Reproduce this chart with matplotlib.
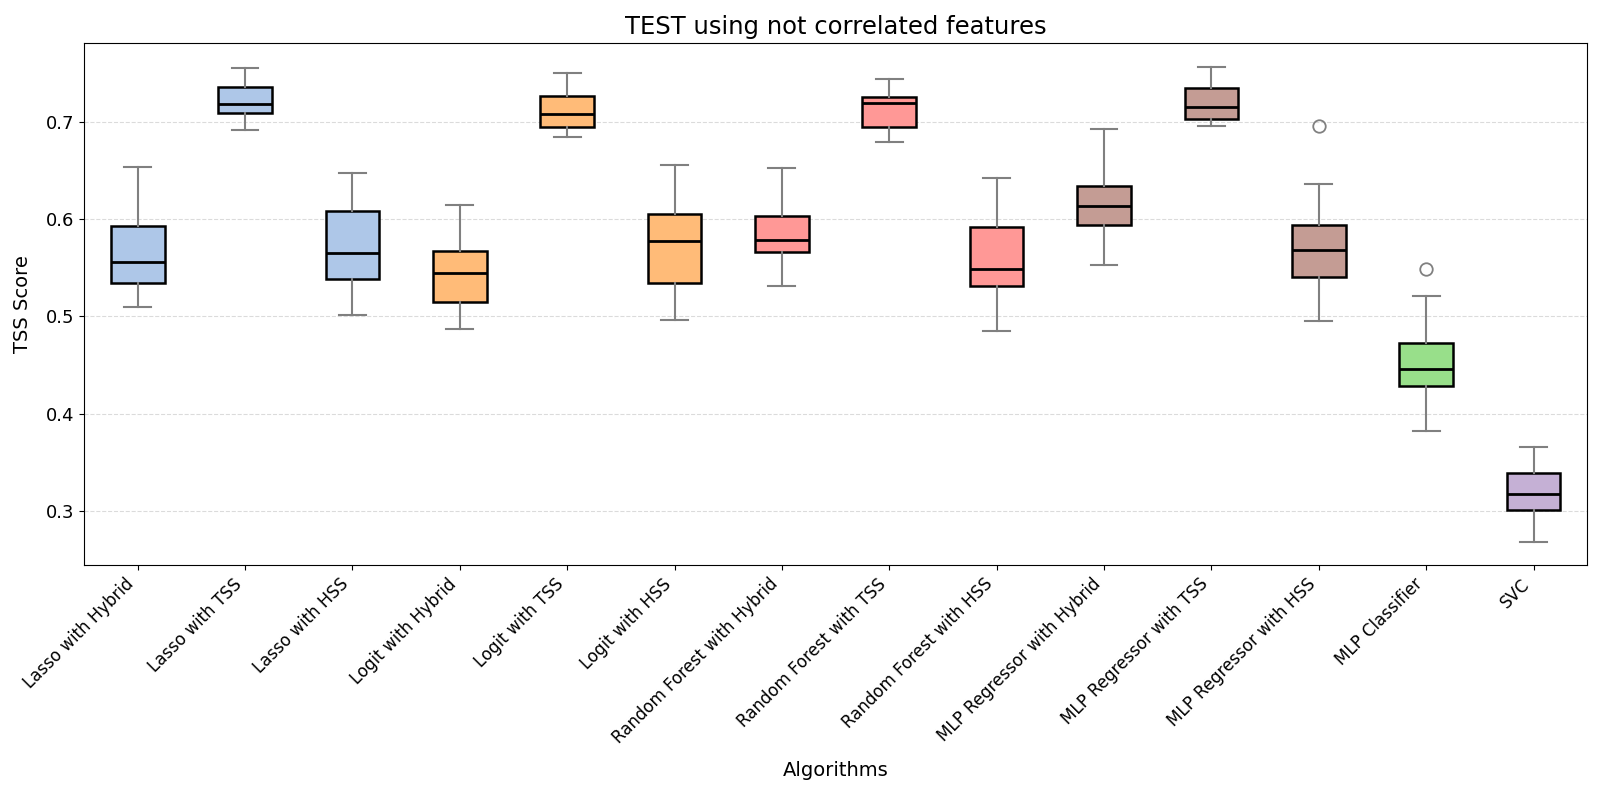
import matplotlib
matplotlib.use('Agg')
import matplotlib.pyplot as plt

# algorithms on the x axis
algos = ['Lasso with Hybrid', 'Lasso with TSS', 'Lasso with HSS',
         'Logit with Hybrid', 'Logit with TSS', 'Logit with HSS',
         'Random Forest with Hybrid', 'Random Forest with TSS', 'Random Forest with HSS',
         'MLP Regressor with Hybrid', 'MLP Regressor with TSS', 'MLP Regressor with HSS',
         'MLP Classifier', 'SVC']

# box statistics
whislo = [0.5095, 0.6916, 0.501, 0.4867, 0.6848, 0.4958, 0.5308,
          0.6787, 0.4852, 0.5532, 0.6954, 0.4947, 0.3821, 0.2684]
q1 = [0.534, 0.7087, 0.5388, 0.5148, 0.6947, 0.534, 0.5658,
      0.6947, 0.5316, 0.5935, 0.703, 0.540, 0.4289, 0.301]
med = [0.5555, 0.7186, 0.5646, 0.5445, 0.7084, 0.5772, 0.578,
       0.7194, 0.549, 0.6129, 0.7156, 0.5677, 0.446, 0.3175]
q3 = [0.593, 0.736, 0.608, 0.5673, 0.7266, 0.605, 0.6027,
      0.7255, 0.5913, 0.6335, 0.735, 0.5935, 0.473, 0.3392]
whishi = [0.653, 0.755, 0.647, 0.6148, 0.750, 0.6555, 0.652,
          0.7437, 0.6422, 0.6928, 0.7567, 0.6357, 0.5205, 0.3658]
fliers = [[], [], [], [], [], [], [], [], [], [], [], [0.6954], [0.549], []]

colors = ['#aec7e8'] * 3 + ['#ffbb78'] * 3 + ['#ff9896'] * 3 + ['#c49c94'] * 3 + ['#98df8a', '#c5b0d5']

stats = []
for i in range(len(algos)):
    stats.append({'label': algos[i], 'whislo': whislo[i], 'q1': q1[i], 'med': med[i],
                  'q3': q3[i], 'whishi': whishi[i], 'fliers': fliers[i]})

fig, ax = plt.subplots(figsize=(16, 7.93), dpi=100)
fig.subplots_adjust(left=0.0525, right=0.992, top=0.946, bottom=0.287)

bp = ax.bxp(stats, patch_artist=True, widths=0.5,
            boxprops=dict(edgecolor='black', linewidth=1.8),
            medianprops=dict(color='black', linewidth=2),
            whiskerprops=dict(color='gray', linewidth=1.5),
            capprops=dict(color='gray', linewidth=1.5),
            flierprops=dict(marker='o', markerfacecolor='none', markeredgecolor='gray',
                            markersize=9, markeredgewidth=1.3))
for patch, c in zip(bp['boxes'], colors):
    patch.set_facecolor(c)

ax.yaxis.grid(True, linestyle='--', color='lightgray', alpha=0.8)
ax.set_axisbelow(True)
ax.set_yticks([0.3, 0.4, 0.5, 0.6, 0.7])
ax.tick_params(axis='y', labelsize=13)
ax.tick_params(axis='x', labelsize=12)
plt.setp(ax.get_xticklabels(), rotation=45, ha='right', rotation_mode='default')

ax.set_title('TEST using not correlated features', fontsize=17.5)
ax.set_xlabel('Algorithms', fontsize=14, labelpad=10)
ax.set_ylabel('TSS Score', fontsize=14, labelpad=10)

plt.savefig('out.png', dpi=100)
